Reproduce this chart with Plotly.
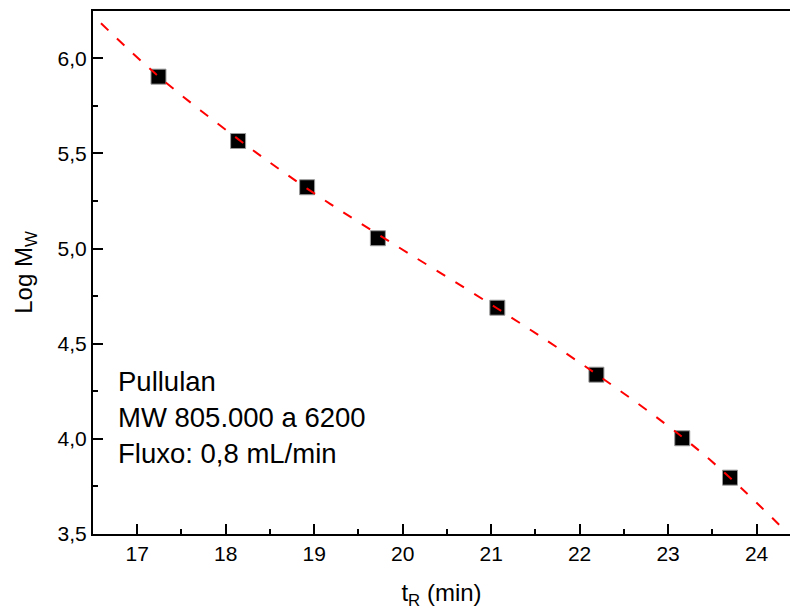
import plotly.graph_objects as go

# Measured data (retention time in min, log Mw)
t_r = [17.24, 18.14, 18.92, 19.72, 21.07, 22.19, 23.16, 23.70]
log_mw = [5.903, 5.565, 5.322, 5.054, 4.689, 4.337, 4.003, 3.796]

# Calibration curve
fit_x = [16.59, 17.24, 18.14, 18.92, 19.72, 21.07, 22.19, 23.16, 23.70, 24.34]
fit_y = [6.184, 5.905, 5.575, 5.315, 5.075, 4.685, 4.340, 4.010, 3.796, 3.51]

note_lines = ["Pullulan", "MW 805.000 a 6200", "Fluxo: 0,8 mL/min"]

FONT = "Liberation Sans, Arial, sans-serif"

fig = go.Figure()
fig.add_trace(go.Scatter(
    x=t_r, y=log_mw, mode="markers",
    marker=dict(symbol="square", size=15, color="black",
                line=dict(color="#999999", width=1)),
    showlegend=False))
fig.add_trace(go.Scatter(
    x=fit_x, y=fit_y, mode="lines", line_shape="spline",
    line=dict(color="#FF0000", width=2, dash="10px,12px"),
    showlegend=False, hoverinfo="skip"))

fig.add_annotation(
    xref="paper", yref="y", x=(116 - 93) / 697, y=4.11,
    xanchor="left", yanchor="middle", align="left", showarrow=False,
    text="<br>".join(note_lines),
    font=dict(family=FONT, size=27.5, color="black"))

fig.update_layout(
    width=790, height=611,
    margin=dict(l=93, r=0, t=11, b=77),
    plot_bgcolor="white", paper_bgcolor="white",
    separators=",.",
    font=dict(family=FONT, color="black"),
    xaxis=dict(
        range=[16.5, 24.378], dtick=1, tick0=17,
        ticks="inside", ticklen=10, tickwidth=2, tickcolor="black",
        minor=dict(ticks="inside", ticklen=5, tickwidth=2, dtick=0.5, tickcolor="black"),
        showline=True, linecolor="black", linewidth=2, mirror=True,
        showgrid=False, zeroline=False,
        tickfont=dict(family=FONT, size=21, color="black"),
        title=dict(text="t<sub>R</sub> (min)", font=dict(family=FONT, size=24, color="black"),
                   standoff=20),
    ),
    yaxis=dict(
        range=[3.5, 6.248], dtick=0.5, tick0=3.5, tickformat=".1f",
        ticks="inside", ticklen=10, tickwidth=2, tickcolor="black",
        minor=dict(ticks="inside", ticklen=5, tickwidth=2, dtick=0.25, tickcolor="black"),
        showline=True, linecolor="black", linewidth=2, mirror=False,
        showgrid=False, zeroline=False,
        tickfont=dict(family=FONT, size=21, color="black"),
        title=dict(text="Log M<sub>W</sub>", font=dict(family=FONT, size=24, color="black"),
                   standoff=18),
    ),
)

fig.write_html("out.html")
